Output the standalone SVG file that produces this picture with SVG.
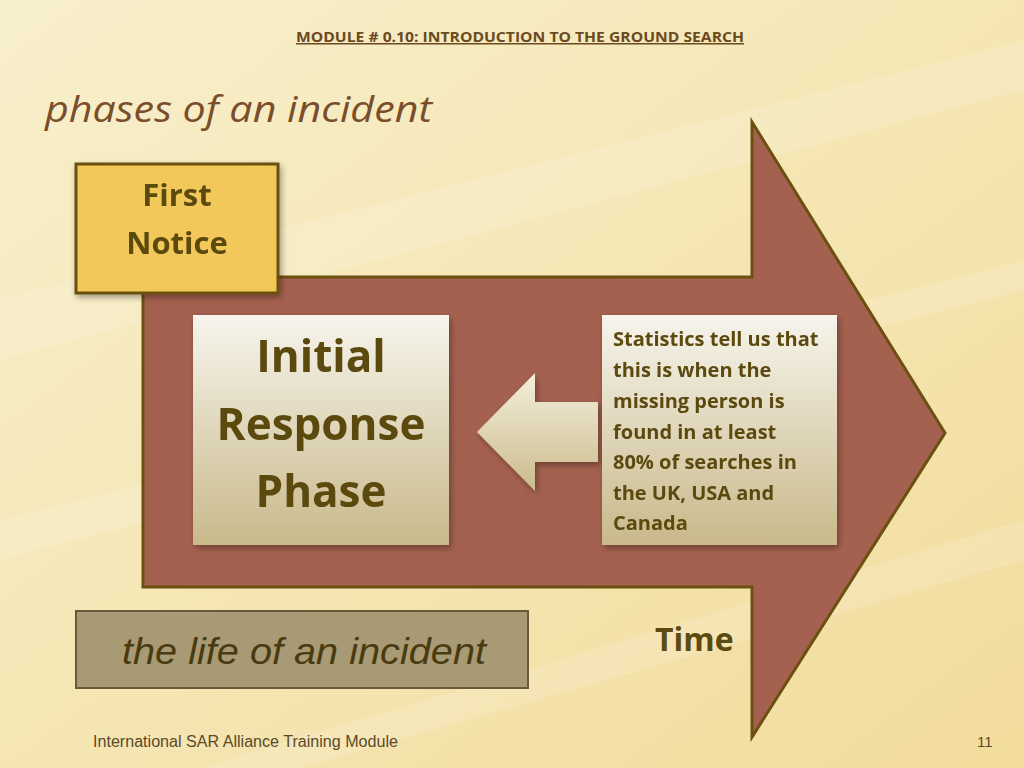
<svg xmlns="http://www.w3.org/2000/svg" width="1024" height="768" viewBox="0 0 1024 768">
<defs>
<linearGradient id="bg" x1="0" y1="0" x2="1" y2="1">
<stop offset="0" stop-color="#f8efcc"/><stop offset="0.5" stop-color="#f5e6b4"/><stop offset="1" stop-color="#f2dc9c"/>
</linearGradient>
<linearGradient id="card" x1="0" y1="0" x2="0" y2="1">
<stop offset="0" stop-color="#f6f4ec"/><stop offset="1" stop-color="#c9b98a"/>
</linearGradient>
<linearGradient id="larr" x1="0" y1="0" x2="0" y2="1">
<stop offset="0" stop-color="#f4efdc"/><stop offset="1" stop-color="#cbbb8c"/>
</linearGradient>
<filter id="sh" x="-10%" y="-10%" width="130%" height="130%"><feDropShadow dx="2" dy="3" stdDeviation="3" flood-color="#000" flood-opacity="0.35"/></filter>
<style>
.t{font-family:"Open Sans","Liberation Sans",sans-serif;font-weight:bold;fill:#5c4a10}
.s{font-family:"Open Sans","Liberation Sans",sans-serif;font-weight:bold;fill:#5c4a10;font-size:20px}
</style>
</defs>
<rect width="1024" height="768" fill="url(#bg)"/>
<g opacity="0.18" fill="#fffaf0">
<polygon points="0,300 1024,40 1024,90 0,360"/>
<polygon points="0,520 1024,260 1024,290 0,560"/>
<polygon points="200,768 1024,520 1024,560 300,768"/>
</g>
<text x="520" y="42" text-anchor="middle" font-family="'Open Sans','Liberation Sans',sans-serif" font-weight="bold" font-size="15" fill="#6b4a1f" textLength="448" lengthAdjust="spacingAndGlyphs" text-decoration="underline">MODULE # 0.10: INTRODUCTION TO THE GROUND SEARCH</text>
<text x="45" y="122" font-family="'Open Sans','Liberation Sans',sans-serif" font-style="italic" font-size="36" fill="#7a4e2a" textLength="387" lengthAdjust="spacingAndGlyphs">phases of an incident</text>
<g id="timeArrow">
<polygon points="143,277 752,277 752,122 945,433 752,737 752,587 143,587" fill="#a5614f" stroke="#6b5010" stroke-width="3"/>
</g>
<g id="firstNotice" filter="url(#sh)">
<rect x="76" y="164" width="202" height="129" fill="#f2c85a" stroke="#6b5010" stroke-width="3"/>
<text class="t" x="177" y="206" font-size="31" text-anchor="middle" fill="#5a4010">First</text>
<text class="t" x="177" y="254" font-size="31" text-anchor="middle" fill="#5a4010">Notice</text>
</g>
<g id="initial" filter="url(#sh)">
<rect x="193" y="315" width="256" height="230" fill="url(#card)"/>
<text class="t" x="321" y="372" font-size="44" text-anchor="middle">Initial</text>
<text class="t" x="321" y="440" font-size="44" text-anchor="middle">Response</text>
<text class="t" x="321" y="507" font-size="44" text-anchor="middle">Phase</text>
</g>
<g id="connectors" filter="url(#sh)">
<polygon points="477,432 535,373 535,402 598,402 598,462 535,462 535,491" fill="url(#larr)"/>
</g>
<g id="stats" filter="url(#sh)">
<rect x="602" y="315" width="235" height="230" fill="url(#card)"/>
<text class="s" x="613" y="346">Statistics tell us that</text>
<text class="s" x="613" y="377">this is when the</text>
<text class="s" x="613" y="408">missing person is</text>
<text class="s" x="613" y="439">found in at least</text>
<text class="s" x="613" y="469">80% of searches in</text>
<text class="s" x="613" y="500">the UK, USA and</text>
<text class="s" x="613" y="530">Canada</text>
</g>
<g id="life">
<rect x="76" y="611" width="452" height="77" fill="#a89a74" stroke="#6b5a3a" stroke-width="2"/>
<text x="122" y="664" font-family="'Liberation Sans',sans-serif" font-style="italic" font-size="37" fill="#4a3a10" textLength="364" lengthAdjust="spacingAndGlyphs">the life of an incident</text>
</g>
<text class="t" x="655" y="651" font-size="32" fill="#4a3a10">Time</text>
<text x="93" y="747" font-family="'Liberation Sans',sans-serif" font-size="16" fill="#5a4a2a" textLength="305" lengthAdjust="spacingAndGlyphs">International SAR Alliance Training Module</text>
<text x="977" y="747" font-family="'Liberation Sans',sans-serif" font-size="15" fill="#5a4a2a">11</text>
</svg>
